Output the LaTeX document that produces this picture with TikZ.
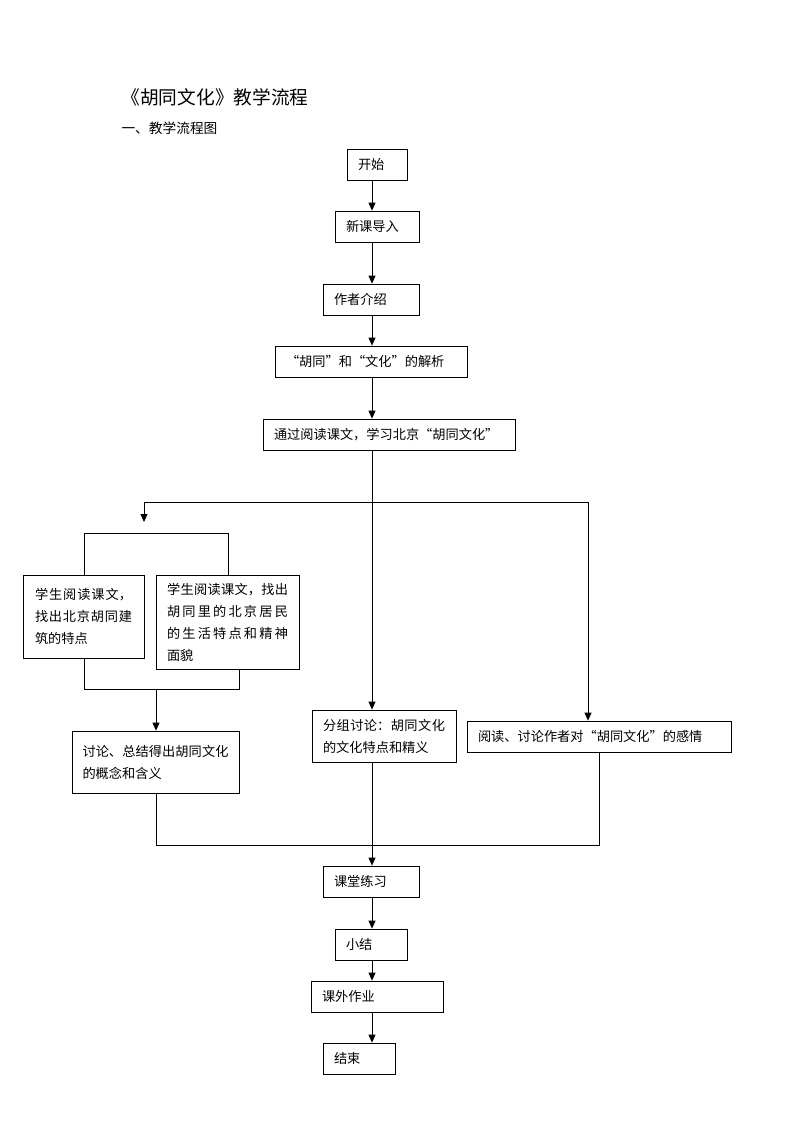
\documentclass[tikz,border=0pt]{standalone}
\usepackage{fontspec}
\setmainfont{Noto Sans CJK SC}
\usetikzlibrary{arrows.meta}
\XeTeXlinebreaklocale "zh"
\XeTeXlinebreakskip=0pt plus 3pt
\begin{document}
\begin{tikzpicture}[x=1pt,y=-1pt,
  box/.style={draw, line width=0.8pt, inner xsep=11pt, inner ysep=0pt,
    font=\fontsize{13.2}{22}\selectfont, align=left},
  jbox/.style={box, align=justify},
  arr/.style={line width=0.8pt, -{Triangle[length=8pt,width=7pt]}},
  ln/.style={line width=0.8pt}]
\useasboundingbox[fill=white] (0,0) rectangle (793,1122);

\node[anchor=west, font=\fontsize{18.7}{22}\selectfont] (title) at (118,97) {《胡同文化》教学流程};
\node[anchor=west, font=\fontsize{13.7}{18}\selectfont] (sub) at (118,128) {一、教学流程图};

\node[box, text width=38pt, minimum height=31pt] (start) at (377,164.5) {开始};
\node[box, text width=62pt, minimum height=31pt] (xinke) at (377,226.5) {新课导入};
\node[box, text width=74pt, minimum height=31pt] (zuozhe) at (371,299.5) {作者介绍};
\node[box, text width=170pt, minimum height=31pt] (jiexi) at (371,361.5) {“胡同”和“文化”的解析};
\node[box, text width=230pt, minimum height=31pt] (tongguo) at (389,434.5) {通过阅读课文，学习北京“胡同文化”};

\node[jbox, inner xsep=12pt, text width=97pt, minimum height=83pt] (jianzhu) at (83.5,616.5)
  {学生阅读课文，\linebreak 找出北京胡同建\linebreak 筑的特点\par\vspace{8pt}};
\node[jbox, text width=121pt, minimum height=94pt] (jumin) at (227.5,622)
  {学生阅读课文，找出\linebreak 胡同里的北京居民\linebreak 的生活特点和精神\linebreak 面貌};
\node[jbox, inner xsep=10.5pt, text width=146pt, minimum height=62pt] (gainian) at (155.5,762)
  {讨论、总结得出胡同文化\linebreak 的概念和含义\par\vspace{8pt}};
\node[jbox, text width=122pt, minimum height=52pt] (fenzu) at (384,736)
  {分组讨论：胡同文化\linebreak 的文化特点和精义};
\node[box, text width=242pt, minimum height=31pt] (ganqing) at (599,736.5) {阅读、讨论作者对“胡同文化”的感情};

\node[box, text width=74pt, minimum height=31pt] (lianxi) at (371,881.5) {课堂练习};
\node[box, text width=50pt, minimum height=31pt] (xiaojie) at (371,944.5) {小结};
\node[box, text width=110pt, minimum height=31pt] (zuoye) at (377,996.5) {课外作业};
\node[box, text width=50pt, minimum height=31pt] (jieshu) at (359,1058.5) {结束};

\coordinate (mx) at (372,0);
\coordinate (br) at (372,502);
\coordinate (brL) at (144,502);
\coordinate (brR) at (588,502);
\coordinate (brA) at (144,522);
\coordinate (bkl) at (84,533);
\coordinate (bkr) at (228,533);
\coordinate (bbl) at (84,689);
\coordinate (bbr) at (239,689);
\coordinate (bbm) at (156,689);
\coordinate (mgL) at (156,845);
\coordinate (mgR) at (599,845);

\draw[arr] (start.south -| mx) -- (xinke.north -| mx);
\draw[arr] (xinke.south -| mx) -- (zuozhe.north -| mx);
\draw[arr] (zuozhe.south -| mx) -- (jiexi.north -| mx);
\draw[arr] (jiexi.south -| mx) -- (tongguo.north -| mx);
\draw[arr] (tongguo.south -| mx) -- (fenzu.north -| mx);
\draw[arr] (brL) -- (brA);
\draw[ln] (brL) -- (brR);
\draw[arr] (brR) -- (brR |- ganqing.north);
\draw[ln] (bkl |- jianzhu.north) -- (bkl) -- (bkr) -- (bkr |- jumin.north);
\draw[ln] (bbl |- jianzhu.south) -- (bbl) -- (bbr) -- (bbr |- jumin.south);
\draw[arr] (bbm) -- (bbm |- gainian.north);
\draw[ln] (mgL |- gainian.south) -- (mgL) -- (mgR) -- (mgR |- ganqing.south);
\draw[arr] (fenzu.south -| mx) -- (lianxi.north -| mx);
\draw[arr] (lianxi.south -| mx) -- (xiaojie.north -| mx);
\draw[arr] (xiaojie.south -| mx) -- (zuoye.north -| mx);
\draw[arr] (zuoye.south -| mx) -- (jieshu.north -| mx);
\end{tikzpicture}
\end{document}
